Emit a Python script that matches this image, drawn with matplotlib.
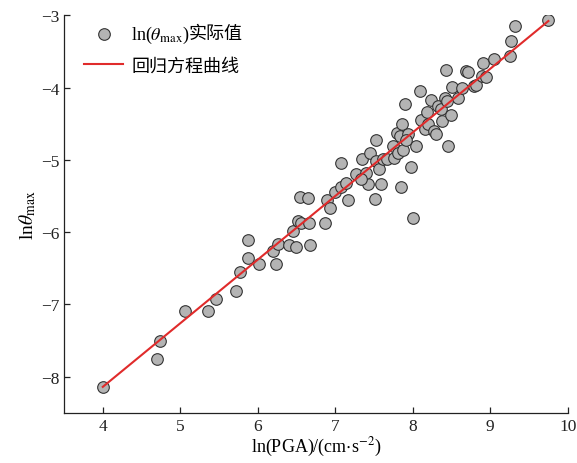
import matplotlib
matplotlib.use("Agg")
import matplotlib.pyplot as plt

plt.rcParams['font.family'] = ['Liberation Serif', 'Noto Sans CJK SC', 'DejaVu Sans']
plt.rcParams['mathtext.fontset'] = 'stix'

ln_pga = [4.00, 4.70, 4.74, 5.06, 5.36, 5.46, 5.72, 5.77, 5.88, 6.01,
          5.88, 6.23, 6.20, 6.26, 6.40, 6.49, 6.67, 6.46, 6.52, 6.56,
          6.66, 6.55, 6.65, 6.87, 6.89, 6.93, 6.99, 7.07, 7.14, 7.17,
          7.08, 7.27, 7.34, 7.42, 7.40, 7.45, 7.51, 7.52, 7.53, 7.56,
          7.59, 7.61, 7.67, 7.74, 7.76, 7.79, 7.81, 7.85, 7.88, 7.83,
          7.86, 7.94, 7.98, 8.00, 7.90, 8.04, 8.09, 8.10, 8.16, 8.18,
          8.19, 8.23, 8.27, 8.30, 8.33, 8.36, 8.38, 8.41, 8.44, 8.45,
          8.49, 8.43, 8.50, 8.59, 8.63, 8.69, 8.71, 8.79, 8.81, 8.89,
          8.95, 8.90, 9.05, 9.26, 9.27, 9.32, 9.75, 7.33, 7.91]
ln_theta = [-8.14, -7.75, -7.50, -7.09, -7.09, -6.92, -6.82, -6.55, -6.36, -6.44,
            -6.11, -6.44, -6.26, -6.17, -6.18, -6.21, -6.18, -5.98, -5.85, -5.88,
            -5.87, -5.51, -5.53, -5.87, -5.55, -5.67, -5.44, -5.38, -5.32, -5.56,
            -5.04, -5.20, -4.99, -5.34, -5.18, -4.91, -5.54, -4.72, -5.02, -5.13,
            -5.34, -4.99, -4.99, -4.81, -4.98, -4.63, -4.90, -5.37, -4.87, -4.67,
            -4.51, -4.64, -5.10, -5.80, -4.23, -4.81, -4.05, -4.45, -4.57, -4.34,
            -4.51, -4.17, -4.60, -4.64, -4.25, -4.29, -4.46, -4.14, -4.18, -4.81,
            -4.38, -3.76, -3.99, -4.15, -4.01, -3.77, -3.78, -3.98, -3.97, -3.84,
            -3.86, -3.66, -3.60, -3.56, -3.36, -3.15, -3.07, -5.26, -4.72]

# regression line end points
fit_x = [4.00, 9.75]
fit_y = [-8.14, -3.08]

fs = 13

fig = plt.figure(figsize=(5.77, 4.64), dpi=100)
ax = fig.add_axes([0.111, 0.108, 0.873, 0.857])

ax.scatter(ln_pga, ln_theta, s=70, facecolor='#b4b4b4', edgecolor='#333333',
           linewidth=0.8, zorder=3, label=r'ln($\theta_{\rm max}$)')
ax.plot(fit_x, fit_y, color='#e02b2b', linewidth=1.5, zorder=4, label='回归方程曲线')

ax.set_xlim(3.5, 10)
ax.set_ylim(-8.5, -3)
ax.set_xticks([4, 5, 6, 7, 8, 9, 10])
ax.set_yticks([-8, -7, -6, -5, -4, -3])

for side in ['top', 'right']:
    ax.spines[side].set_visible(False)
for side in ['left', 'bottom']:
    ax.spines[side].set_linewidth(0.9)
    ax.spines[side].set_color('#222222')
ax.tick_params(direction='in', length=4, width=0.9, labelsize=12.5, colors='#222222')

ax.set_xlabel(r'ln(PGA)/(cm$\cdot$s$^{-2}$)', fontsize=fs, labelpad=1)
ax.set_ylabel(r'ln$\theta_{\rm max}$', fontsize=14, labelpad=2)

leg = ax.legend(loc='upper left', bbox_to_anchor=(0.008, 1.02), frameon=False,
                fontsize=fs, labelspacing=0.7, handlelength=2.15, handletextpad=0.45)

# mathtext can't render CJK, so the rest of the first label goes after it
fig.canvas.draw()
bb = leg.get_texts()[0].get_window_extent()
fig.text(bb.x1 - 1, (bb.y0 + bb.y1) / 2 + 1, '实际值', fontsize=fs,
         va='center', ha='left', transform=None)

fig.savefig('out.png', dpi=100)
